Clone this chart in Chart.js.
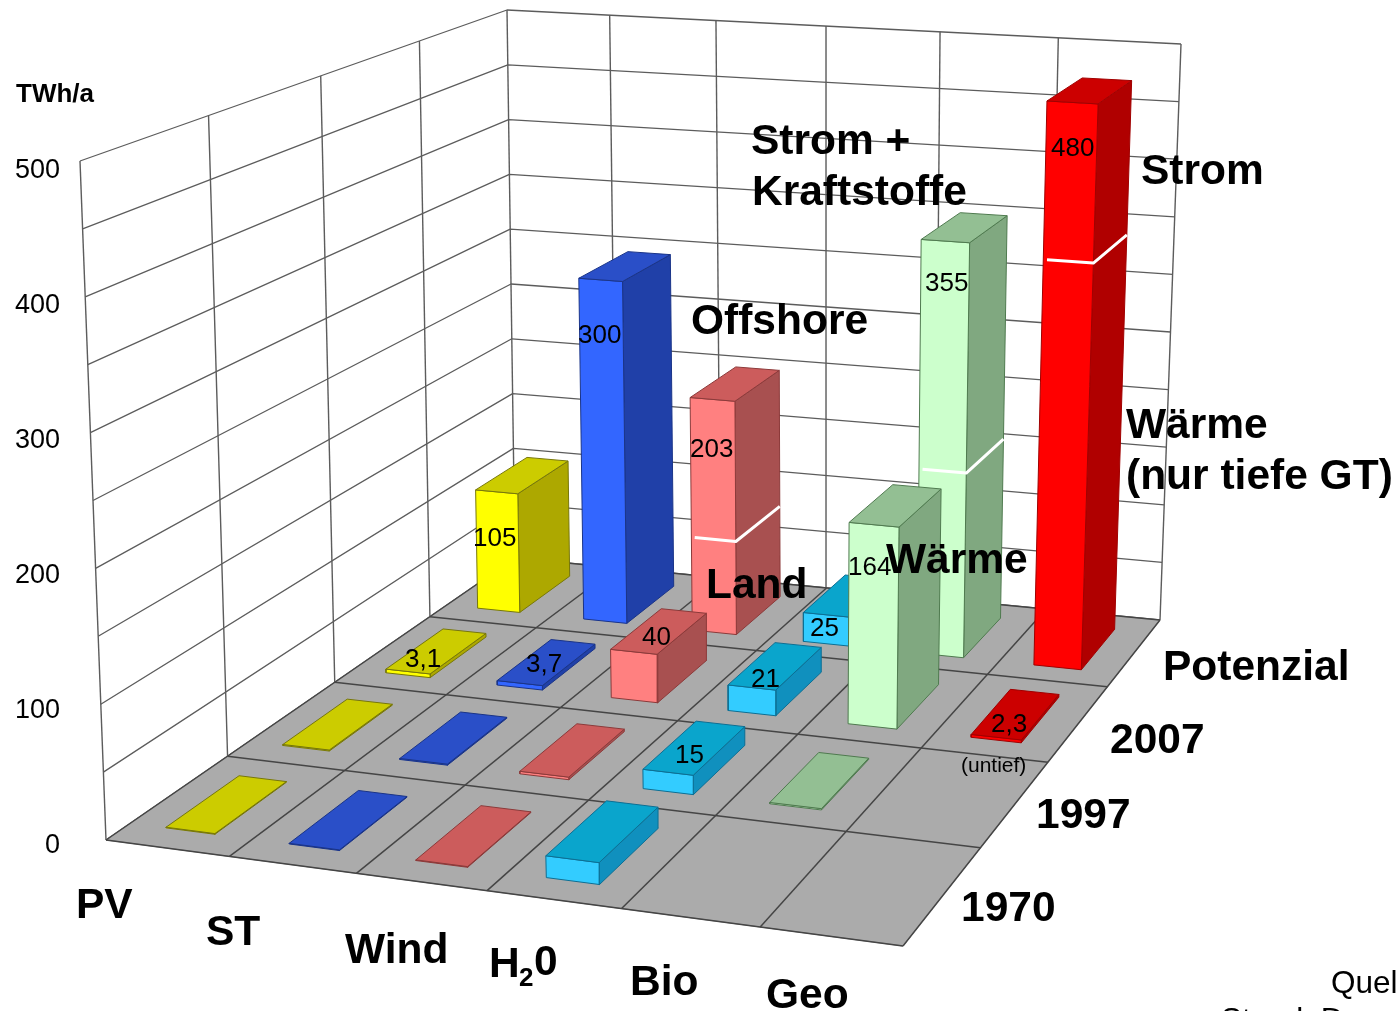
<!DOCTYPE html>
<html><head><meta charset="utf-8">
<style>html,body{margin:0;padding:0;background:#fff}#w{width:1398px;height:1011px;position:relative;overflow:hidden}</style>
<script src="https://cdn.jsdelivr.net/npm/chart.js@4"></script></head>
<body><div id="w"><canvas id="c" width="1398" height="1011"></canvas></div>
<script>
// ---------- data ----------
const categories = ['PV','ST','Wind','H2O','Bio','Geo'];
const years = ['1970','1997','2007','Potenzial'];
const values1970 = [0.5,0.5,0.5,16,null,null];
const values1997 = [0.8,0.8,2,15,1,null];
const values2007 = [3.1,3.7,40,21,164,2.3];
const valuesPotenzial = [105,300,203,25,355,480];
const rows = [values1970,values1997,values2007,valuesPotenzial];
const axisTicks = [0,100,200,300,400,500];
const zMax = 500;
// split points on the potential bars: Wind, Bio, Geo
const splitCols = [2,4,5];
const splitVals = [81,158,345];
// ---------- styles ----------
const frontColors = ['#FFFF00','#3366FF','#FF8080','#33CCFF','#CCFFCC','#FF0000'];
const sideColors  = ['#ADA800','#2040A8','#A85050','#1090BE','#80A880','#B00000'];
const topColors   = ['#CCCC00','#2A4FC8','#CC5C5C','#0AA5CC','#93BF93','#CC0000'];
const edgeColors  = ['#77770A','#1A3488','#8C3A3A','#0C6F94','#4F7A4F','#A00000'];
const floorColor = '#ABABAB', wallLine = '#5c5c5c', floorLine = '#454545';
const barU = [0.295,0.695], barV = [0.19,0.80], barScale = 0.985;
// ---------- camera calibration ----------
const floorQuad = [[106,840],[903,946],[1160,620],[515,558]];
const topRefs = [[0,0,80,161],[0,1,507,10],[1,1,1181,44]];
const frontRightHint = [917,296], hintWeight = 0.27;
const axisW = 64, H = 1011, W = 1398;
const pxPerUnit = 1.35, zeroPx = 846;

function homographyCoeffs(q){
  const [[x0,y0],[x1,y1],[x2,y2],[x3,y3]] = q;
  const sx=x0-x1+x2-x3, sy=y0-y1+y2-y3, dx1=x1-x2, dx2=x3-x2, dy1=y1-y2, dy2=y3-y2;
  const det=dx1*dy2-dx2*dy1, g=(sx*dy2-dx2*sy)/det, h=(dx1*sy-sx*dy1)/det;
  return {a:x1-x0+g*x1,b:x3-x0+h*x3,c:x0,d:y1-y0+g*y1,e:y3-y0+h*y3,f:y0,g,h};
}
function toMap(k){return (u,v)=>{const w=k.g*u+k.h*v+1;return [(k.a*u+k.b*v+k.c)/w,(k.d*u+k.e*v+k.f)/w];};}
const kF = homographyCoeffs(floorQuad);
function base(u,v){return [kF.a*u+kF.b*v+kF.c, kF.d*u+kF.e*v+kF.f, kF.g*u+kF.h*v+1];}
// least squares for the vertical direction, used to place the unseen fourth top corner
function solveVertical(){
  const A=[[0,0,0],[0,0,0],[0,0,0]], B=[0,0,0];
  const add=(r,t)=>{for(let i=0;i<3;i++){B[i]+=r[i]*t;for(let j=0;j<3;j++)A[i][j]+=r[i]*r[j];}};
  topRefs.forEach(([u,v,x,y])=>{const [X,Y,Wb]=base(u,v);add([1,0,-x],x*Wb-X);add([0,1,-y],y*Wb-Y);});
  const d3=m=>m[0][0]*(m[1][1]*m[2][2]-m[1][2]*m[2][1])-m[0][1]*(m[1][0]*m[2][2]-m[1][2]*m[2][0])+m[0][2]*(m[1][0]*m[2][1]-m[1][1]*m[2][0]);
  const D=d3(A);
  return [0,1,2].map(k=>d3(A.map((r,i)=>r.map((val,j)=>j===k?B[i]:val)))/D);
}
const cv = solveVertical();
const [fx,fy,fw] = base(1,0);
const topFR = [0,1].map(i=>{const p=[(fx+cv[0])/(fw+cv[2]),(fy+cv[1])/(fw+cv[2])][i];return p+(frontRightHint[i]-p)*hintWeight;});
const topQuad = [[80,161],topFR,[1181,44],[507,10]];
const floorH = toMap(kF), topH = toMap(homographyCoeffs(topQuad));
// u: 0..6 categories, v: 0..4 rows, z: value
function P(u,v,z){
  const a=floorH(u/categories.length,v/years.length), b=topH(u/categories.length,v/years.length), t=z/zMax;
  return {x:a[0]+(b[0]-a[0])*t, y:a[1]+(b[1]-a[1])*t};
}
// ---------- dataset building ----------
const seq=[];
function shape(points,opt){seq.push(Object.assign({type:'line',data:points,xAxisID:'px',yAxisID:'py',pointRadius:0,pointHoverRadius:0,tension:0,clip:false,fill:false,borderWidth:1,borderColor:'transparent',backgroundColor:'transparent',borderJoinStyle:'round',parsing:false,normalized:false,spanGaps:false},opt));}
function poly(pts,fill,edge,bw){shape([...pts,pts[0]],{fill:'shape',backgroundColor:fill,borderColor:edge,borderWidth:bw===undefined?1:bw});}
function seg(pts,color,bw){shape(pts,{borderColor:color,borderWidth:bw});}

const nU=categories.length,nV=years.length;
// walls
for(let z=0;z<=zMax;z+=50){
  seg([P(0,0,z),P(0,nV,z),P(nU,nV,z)],wallLine,1.3);
}
for(let v=0;v<=nV;v++) seg([P(0,v,0),P(0,v,zMax)],wallLine,1.4);
for(let u=1;u<=nU;u++) seg([P(u,nV,0),P(u,nV,zMax)],wallLine,1.4);
// floor
poly([P(0,0,0),P(nU,0,0),P(nU,nV,0),P(0,nV,0)],floorColor,'#8a8a8a',1);
for(let u=0;u<=nU;u++) seg([P(u,0,0),P(u,nV,0)],floorLine,1.5);
for(let v=0;v<=nV;v++) seg([P(0,v,0),P(nU,v,0)],floorLine,1.5);
// bars, back to front, left to right
for(let r=nV-1;r>=0;r--){
  for(let c=0;c<nU;c++){
    const raw=rows[r][c]; if(raw===null) continue;
    const val=raw*barScale;
    const u0=c+barU[0],u1=c+barU[1],v0=r+barV[0],v1=r+barV[1];
    poly([P(u1,v0,0),P(u1,v1,0),P(u1,v1,val),P(u1,v0,val)],sideColors[c],edgeColors[c]);
    poly([P(u0,v0,0),P(u1,v0,0),P(u1,v0,val),P(u0,v0,val)],frontColors[c],edgeColors[c]);
    poly([P(u0,v0,val),P(u1,v0,val),P(u1,v1,val),P(u0,v1,val)],topColors[c],edgeColors[c]);
    if(r===nV-1){
      const si=splitCols.indexOf(c);
      if(si>=0){const s=splitVals[si]*barScale;seg([P(u0+0.03,v0,s),P(u1,v0,s),P(u1,v1,s)],'#FFFFFF',3);}
    }
  }
}
seq.forEach((d,i)=>{d.order=seq.length-i;});
// ---------- text ----------
const bold42='bold 42.5px "Liberation Sans"', reg26='26px "Liberation Sans"';
const labels=[
 ['TWh/a',16,102,'bold 26px "Liberation Sans"'],
 ['Strom +',751,154,bold42],['Kraftstoffe',752,205,bold42],['Strom',1141,184,bold42],
 ['Offshore',691,334,bold42],['Wärme',1126,438,bold42],['(nur tiefe GT)',1126,489,bold42],
 ['Land',706,598,bold42],['Wärme',886,573,bold42],
 [years[3],1163,680,bold42],[years[2],1110,753,bold42],[years[1],1036,828,bold42],[years[0],961,921,bold42],
 [categories[0],76,918,bold42],[categories[1],206,945,bold42],[categories[2],345,963,bold42],
 ['H',489,977,bold42],['2',519,986,'bold 26px "Liberation Sans"'],['0',534,975,bold42],
 [categories[4],630,995,bold42],[categories[5],766,1008,bold42],
 ['480',1051,156,reg26],['355',925,291,reg26],['300',578,343,reg26],['203',690,457,reg26],
 ['105',473,546,reg26],['164',848,575,reg26],['25',810,636,reg26],['40',642,645,reg26],
 ['21',751,687,reg26],['15',675,763,reg26],['3,1',405,667,reg26],['3,7',526,672,reg26],
 ['2,3',991,732,reg26],['(untief)',961,772,'21px "Liberation Sans"'],
 ['Quel',1331,993,'31.5px "Liberation Sans"'],['Stand: D',1221,1030,'31.5px "Liberation Sans"']
];
const textPlugin={id:'texts',afterDatasetsDraw(ch){
  const x=ch.ctx;x.save();x.fillStyle='#000';x.textAlign='left';x.textBaseline='alphabetic';
  labels.forEach(([t,l,b,f])=>{x.font=f;x.fillText(t,l,b);});x.restore();
}};
new Chart(document.getElementById('c'),{
  data:{datasets:seq},
  plugins:[textPlugin],
  options:{
    responsive:false,animation:false,devicePixelRatio:1,
    layout:{padding:0},
    plugins:{legend:{display:false},tooltip:{enabled:false},title:{display:false}},
    events:[],
    scales:{
      px:{type:'linear',display:false,min:axisW,max:W},
      py:{type:'linear',display:false,min:0,max:H,reverse:true},
      value:{type:'linear',position:'left',min:(zeroPx-H)/pxPerUnit,max:zeroPx/pxPerUnit,
        grid:{display:false,drawTicks:false},border:{display:false},
        ticks:{color:'#000',font:{family:'Liberation Sans',size:27},padding:4,autoSkip:false,maxRotation:0},
        afterBuildTicks:s=>{s.ticks=axisTicks.map(v=>({value:v}));},
        afterFit:s=>{s.width=axisW;s.paddingTop=0;s.paddingBottom=0;}
      }
    }
  }
});
</script></body></html>
